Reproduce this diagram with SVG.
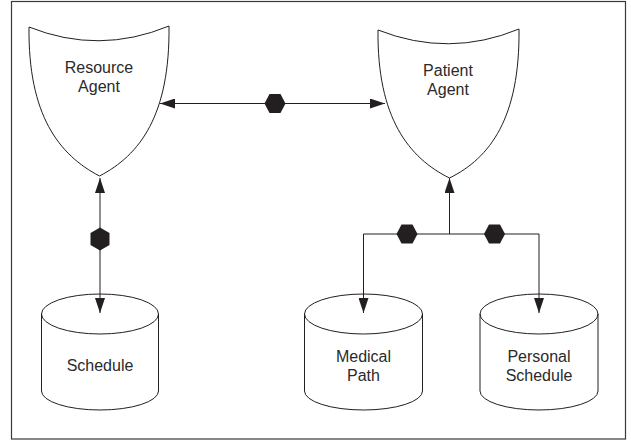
<svg xmlns="http://www.w3.org/2000/svg" width="631" height="441" viewBox="0 0 631 441">
  <style>
    .frame { fill: #ffffff; stroke: #3a3a3a; stroke-width: 1.2; }
    .shape { fill: #ffffff; stroke: #231f20; stroke-width: 1; }
    .wire { fill: none; stroke: #231f20; stroke-width: 1; }
    .hub { fill: #231f20; stroke: none; }
    .label { font-family: "Liberation Sans", Arial, sans-serif; font-size: 16px; fill: #2a2a2a; text-anchor: middle; }
  </style>
  <defs>
    <marker id="arrow" viewBox="0 0 15 10" refX="15" refY="5" markerWidth="15" markerHeight="10" markerUnits="userSpaceOnUse" orient="auto-start-reverse">
      <path d="M0,0 L15,5 L0,10 z" fill="#231f20"/>
    </marker>
    <!-- hexagonal junction, pointed left/right -->
    <polygon id="hexH" points="-10.5,0 -5.5,-9.5 5.5,-9.5 10.5,0 5.5,9.5 -5.5,9.5"/>
    <!-- hexagonal junction, pointed up/down -->
    <polygon id="hexV" points="0,-11.5 9.5,-6 9.5,6 0,11.5 -9.5,6 -9.5,-6"/>
  </defs>

  <rect class="frame" x="11.5" y="1.5" width="614" height="437.5"/>

  <!-- agents -->
  <g id="resource-agent">
    <path class="shape" d="M29,27 Q99,55 169,26 C170,115 140,155 99.5,176 C59,155 28,115 29,27 z"/>
    <text class="label" x="99" y="73">Resource</text>
    <text class="label" x="99" y="92">Agent</text>
  </g>
  <g id="patient-agent">
    <path class="shape" d="M378,30 Q449,58 519,29 C520,118 490,158 449.5,178 C409,158 377,118 378,30 z"/>
    <text class="label" x="448" y="76">Patient</text>
    <text class="label" x="448" y="95">Agent</text>
  </g>

  <!-- data stores -->
  <g id="schedule">
    <path class="shape" d="M41.5,314 A58.5,20 0 0 1 158.5,314 L158.5,391 A58.5,19 0 0 1 41.5,391 z"/>
    <path class="wire" d="M41.5,314 A58.5,20 0 0 0 158.5,314"/>
    <text class="label" x="100" y="371">Schedule</text>
  </g>
  <g id="medical-path">
    <path class="shape" d="M304.5,314 A59,20 0 0 1 422.5,314 L422.5,391 A59,19 0 0 1 304.5,391 z"/>
    <path class="wire" d="M304.5,314 A59,20 0 0 0 422.5,314"/>
    <text class="label" x="363.5" y="362">Medical</text>
    <text class="label" x="363.5" y="380.5">Path</text>
  </g>
  <g id="personal-schedule">
    <path class="shape" d="M480,314 A59,20 0 0 1 598,314 L598,391 A59,19 0 0 1 480,391 z"/>
    <path class="wire" d="M480,314 A59,20 0 0 0 598,314"/>
    <text class="label" x="539" y="362">Personal</text>
    <text class="label" x="539" y="381">Schedule</text>
  </g>

  <!-- connectors -->
  <g id="connectors">
    <path class="wire" d="M160,103.5 H385" marker-start="url(#arrow)" marker-end="url(#arrow)"/>
    <use href="#hexH" class="hub" x="275" y="103.5"/>

    <path class="wire" d="M100,178 V313" marker-start="url(#arrow)" marker-end="url(#arrow)"/>
    <use href="#hexV" class="hub" x="100" y="239"/>

    <path class="wire" d="M449.5,234 V178" marker-end="url(#arrow)"/>
    <path class="wire" d="M449.5,234 H363.5 V313" marker-end="url(#arrow)"/>
    <path class="wire" d="M449.5,234 H539 V313" marker-end="url(#arrow)"/>
    <use href="#hexH" class="hub" x="407" y="234"/>
    <use href="#hexH" class="hub" x="494.5" y="234"/>
  </g>
</svg>
